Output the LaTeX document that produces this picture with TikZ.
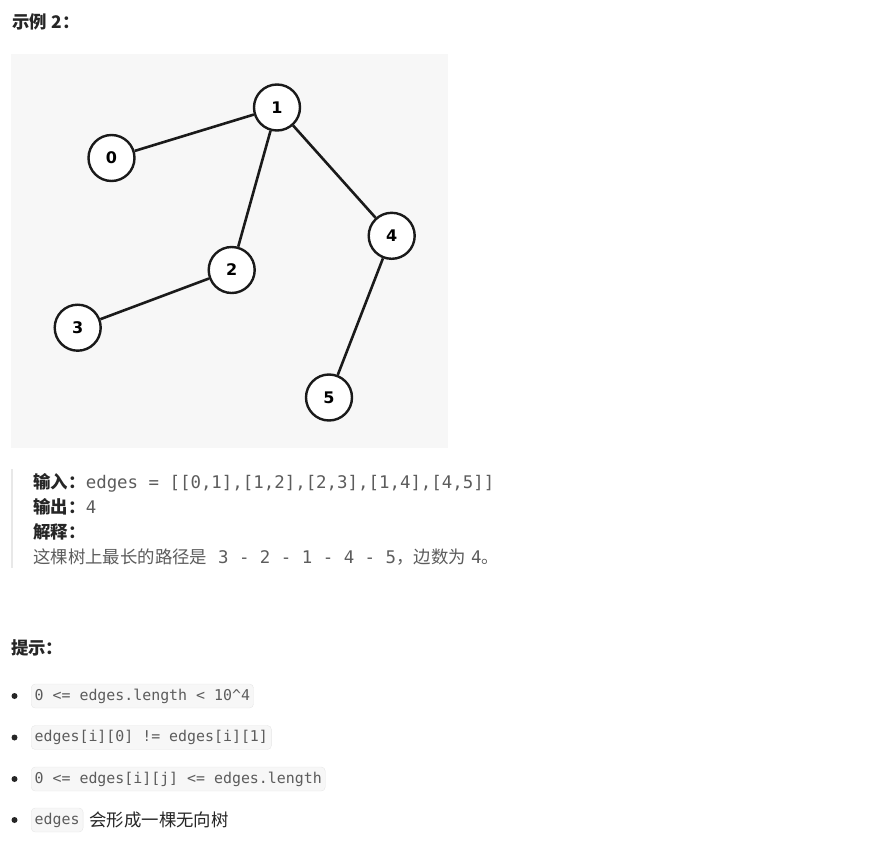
\documentclass[tikz,border=0pt]{standalone}
\usepackage{fontspec}
\setmainfont{DejaVu Sans}
\newfontfamily\cjk{Noto Sans CJK SC}
\newfontfamily\codefont{DejaVu Sans Mono}
\usepackage{tikz}
\usetikzlibrary{positioning}
\definecolor{panelbg}{HTML}{F7F7F7}
\definecolor{textgray}{HTML}{5C5C5C}
\definecolor{headblack}{HTML}{262626}
\definecolor{codeborder}{HTML}{E6E6E6}
\definecolor{quotebar}{HTML}{E8E8E8}
\definecolor{edgeblack}{HTML}{1A1A1A}

\tikzset{
  vertex/.style = {circle, draw = edgeblack, line width = 2.4pt, fill = white,
    minimum size = 46pt, inner sep = 0pt,
    font = \bfseries\fontsize{16}{16}\selectfont},
  treeedge/.style = {line width = 2.6pt, draw = edgeblack},
  headtext/.style = {anchor = base west, inner sep = 0pt, text = headblack,
    font = \cjk\bfseries\fontsize{17.4}{20}\selectfont},
  bodytext/.style = {anchor = base west, inner sep = 0pt, text = textgray,
    font = \cjk\fontsize{17.4}{20}\selectfont},
  monotext/.style = {anchor = base west, inner sep = 0pt, text = textgray,
    font = \codefont\fontsize{17.4}{20}\selectfont},
  codebox/.style = {anchor = west, fill = panelbg, draw = codeborder,
    rounded corners = 4pt, inner xsep = 3.5pt, inner ysep = 0pt,
    minimum height = 24pt, text = textgray,
    font = \codefont\fontsize{14.9}{16}\selectfont},
  bulletdot/.style = {circle, fill = headblack, inner sep = 0pt,
    minimum size = 6pt}
}

\begin{document}
\begin{tikzpicture}[x = 1pt, y = -1pt]
  \useasboundingbox (0,0) rectangle (896,840);

  % heading
  \node[headtext] (title) at (12,28.5) {示例\hspace*{5pt}2：};

  % tree panel
  \fill[panelbg] (11,54) rectangle (448,448);
  \node[vertex] (n0) at (111.5,158) {0};
  \node[vertex] (n1) at (277,107.5) {1};
  \node[vertex] (n2) at (231.7,270) {2};
  \node[vertex] (n3) at (77.7,327.7) {3};
  \node[vertex] (n4) at (391.7,235.8) {4};
  \node[vertex] (n5) at (329,397.5) {5};
  \draw[treeedge] (n0) -- (n1);
  \draw[treeedge] (n1) -- (n2);
  \draw[treeedge] (n2) -- (n3);
  \draw[treeedge] (n1) -- (n4);
  \draw[treeedge] (n4) -- (n5);

  % example block
  \fill[quotebar] (11,469) rectangle (13,568);
  \node[headtext] (inlabel) at (33,488) {输入：};
  \node[monotext] (inval) at (inlabel.base east) {edges = [[0,1],[1,2],[2,3],[1,4],[4,5]]};
  \node[headtext] (outlabel) at (33,513) {输出：};
  \node[monotext] (outval) at (outlabel.base east) {4};
  \node[headtext] (whylabel) at (33,538) {解释：};
  \node[bodytext] (why1) at (33,563) {这棵树上最长的路径是};
  \node[monotext] (why2) at (why1.base east) {\ 3 - 2 - 1 - 4 - 5};
  \node[bodytext] (why3) at (why2.base east) {，边数为\hspace*{4.5pt}};
  \node[monotext] (why4) at (why3.base east) {4};
  \node[bodytext] (why5) at (why4.base east) {。};

  % hints
  \node[headtext] (hint) at (11,654.5) {提示：};
  \node[bulletdot] (b1) at (14.5,696) {};
  \node[codebox] (c1) at (31,696) {0 <= edges.length < 10\^{}4};
  \node[bulletdot] (b2) at (14.5,737.5) {};
  \node[codebox] (c2) at (31,737.5) {edges[i][0] != edges[i][1]};
  \node[bulletdot] (b3) at (14.5,779) {};
  \node[codebox] (c3) at (31,779) {0 <= edges[i][j] <= edges.length};
  \node[bulletdot] (b4) at (14.5,820) {};
  \node[codebox] (c4) at (31,820) {edges};
  \node[bodytext, text = headblack] (c4text) at ([xshift = 6pt]c4.east |- 0,826.5) {会形成一棵无向树};
\end{tikzpicture}
\end{document}
